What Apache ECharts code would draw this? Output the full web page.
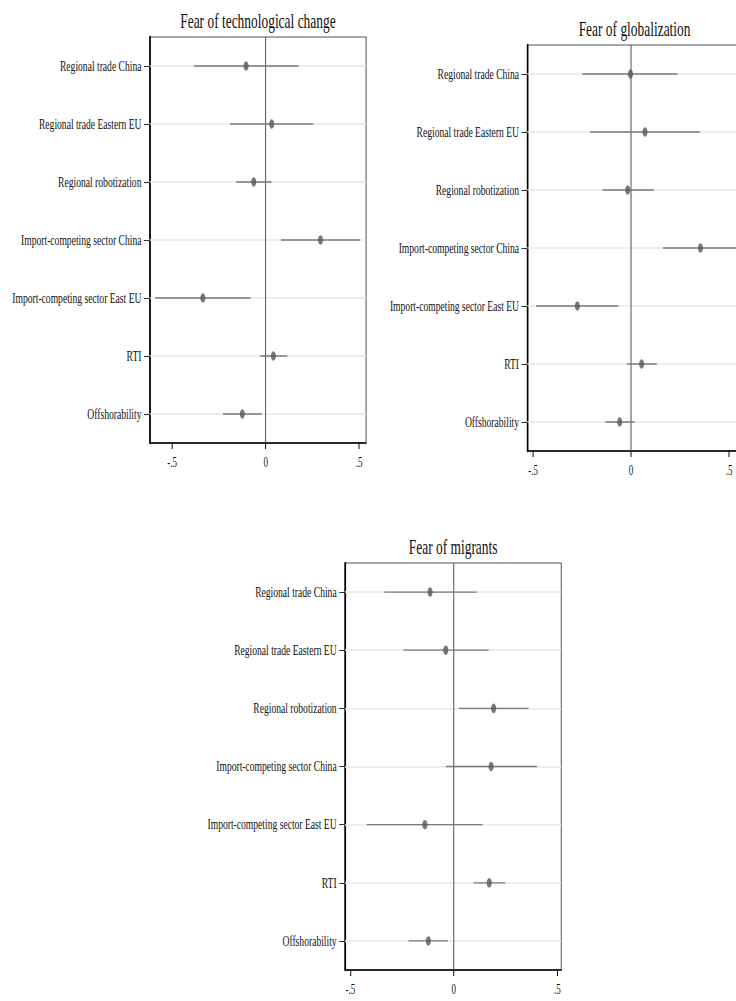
<!DOCTYPE html>
<html>
<head>
<meta charset="utf-8">
<script src="https://cdn.jsdelivr.net/npm/echarts@6/dist/echarts.min.js"></script>
<style>
  html, body { margin: 0; padding: 0; background: #fff; overflow: hidden; width: 736px; height: 1001px; }
  /* the figure is drawn wide and then squeezed horizontally */
  #chart { position: absolute; left: 0; top: 0; width: 1170px; height: 1001px; transform: scaleX(0.64); transform-origin: 0 0; }
</style>
</head>
<body>
<div id="chart"></div>
<script>
// Coefficient estimates with confidence intervals, one panel per outcome
const categories = [
  'Regional trade China',
  'Regional trade Eastern EU',
  'Regional robotization',
  'Import-competing sector China',
  'Import-competing sector East EU',
  'RTI',
  'Offshorability'
];

const panelTitles = ['Fear of technological change', 'Fear of globalization', 'Fear of migrants'];

const techEst = [-0.105, 0.032, -0.064, 0.293, -0.336, 0.041, -0.125];
const techLo  = [-0.384, -0.191, -0.159, 0.082, -0.591, -0.031, -0.229];
const techHi  = [0.177, 0.255, 0.032, 0.505, -0.080, 0.116, -0.020];

const globEst = [-0.003, 0.071, -0.017, 0.354, -0.274, 0.054, -0.058];
const globLo  = [-0.248, -0.209, -0.146, 0.163, -0.485, -0.020, -0.131];
const globHi  = [0.238, 0.352, 0.117, 0.550, -0.065, 0.131, 0.019];

const migEst = [-0.115, -0.039, 0.192, 0.180, -0.140, 0.171, -0.123];
const migLo  = [-0.336, -0.244, 0.024, -0.039, -0.421, 0.095, -0.219];
const migHi  = [0.111, 0.168, 0.361, 0.402, 0.139, 0.248, -0.029];

const xTicks = [-0.5, 0, 0.5];
const xRanges = [[-0.62, 0.537], [-0.529, 0.565], [-0.526, 0.519]];

// panel placement (pre-squeeze pixels)
const layout = [
  { left: 234, top: 37, width: 338, height: 406, titleTop: 10 },
  { left: 824, top: 45, width: 335, height: 406, titleTop: 18 },
  { left: 539, top: 563, width: 338, height: 407, titleTop: 536 }
];

const panels = [
  { est: techEst, lo: techLo, hi: techHi },
  { est: globEst, lo: globLo, hi: globHi },
  { est: migEst, lo: migLo, hi: migHi }
];

const FONT = "'Liberation Serif', 'Times New Roman', serif";
const DOT = '#585858';
const BAR = '#7a7a7a';
const GRIDLINE = '#e7e7e7';
const ZERO = '#555555';

function fmtTick(v) {
  if (v === 0) return '0';
  return String(v).replace('0.', '.');
}

const grid = [], xAxis = [], yAxis = [], title = [], series = [];

layout.forEach((L, k) => {
  grid.push({
    left: L.left, top: L.top, width: L.width, height: L.height,
    show: true, borderColor: '#2a2a2a', borderWidth: 1, backgroundColor: 'transparent'
  });
  title.push({
    text: panelTitles[k],
    left: L.left + L.width / 2, top: L.titleTop, textAlign: 'center', padding: 0,
    textStyle: { fontFamily: FONT, fontSize: 21, fontWeight: 'normal', color: '#111' }
  });
  xAxis.push({
    type: 'value', gridIndex: k, min: xRanges[k][0], max: xRanges[k][1],
    axisLine: { show: true, onZero: false, lineStyle: { color: '#000', width: 1.5 } },
    axisTick: { show: true, customValues: xTicks, length: 6, lineStyle: { color: '#000', width: 1.5 } },
    axisLabel: { customValues: xTicks, formatter: fmtTick, margin: 13,
                 fontFamily: FONT, fontSize: 14, color: '#111' },
    splitLine: { show: false }
  });
  yAxis.push({
    type: 'category', gridIndex: k, data: categories, inverse: true,
    axisLine: { show: true, onZero: false, lineStyle: { color: '#000', width: 2.5 } },
    axisTick: { show: true, alignWithLabel: true, length: 9, lineStyle: { color: '#000', width: 1 } },
    axisLabel: { margin: 13, fontFamily: FONT, fontSize: 15, color: '#111' },
    splitLine: { show: false }
  });

  const P = panels[k];

  // reference lines: one per coefficient row, plus the zero line
  series.push({
    type: 'line', xAxisIndex: k, yAxisIndex: k, data: [], silent: true,
    markLine: {
      z: 1, silent: true, symbol: ['none', 'none'], label: { show: false },
      animation: false,
      data: categories.map((c, i) => ({ yAxis: i, lineStyle: { color: GRIDLINE, width: 1.6, type: 'solid' } }))
        .concat([{ xAxis: 0, lineStyle: { color: ZERO, width: 1.6, type: 'solid' } }])
    }
  });

  // confidence intervals
  series.push({
    type: 'custom', xAxisIndex: k, yAxisIndex: k, z: 3, clip: true, silent: true,
    data: categories.map((c, i) => [P.lo[i], P.hi[i], i]),
    encode: { x: [0, 1], y: 2 },
    renderItem: function (params, api) {
      const row = api.value(2);
      const a = api.coord([api.value(0), row]);
      const b = api.coord([api.value(1), row]);
      return {
        type: 'line',
        shape: { x1: a[0], y1: a[1], x2: b[0], y2: b[1] },
        style: { stroke: BAR, lineWidth: 1.3 }
      };
    }
  });

  // point estimates
  series.push({
    type: 'scatter', xAxisIndex: k, yAxisIndex: k, z: 4, silent: true,
    symbol: 'circle', symbolSize: [8, 9.5],
    itemStyle: { color: DOT },
    data: categories.map((c, i) => [P.est[i], i])
  });
});

const chart = echarts.init(document.getElementById('chart'), null, { renderer: 'svg' });
chart.setOption({
  animation: false,
  backgroundColor: '#fff',
  title, grid, xAxis, yAxis, series
});
</script>
</body>
</html>
